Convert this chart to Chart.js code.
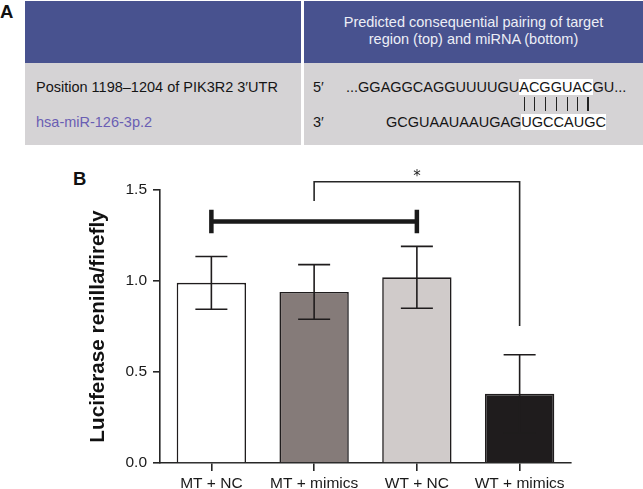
<!DOCTYPE html>
<html>
<head>
<meta charset="utf-8">
<script src="https://cdn.jsdelivr.net/npm/chart.js@4.4.1/dist/chart.umd.min.js"></script>
<style>
  body { margin: 0; width: 643px; height: 489px; background: #fff; position: relative; overflow: hidden;
         font-family: "Liberation Sans", Arial, sans-serif; }
  .abs { position: absolute; white-space: nowrap; }
  .panel { font-weight: bold; font-size: 18.5px; color: #111; }
  .head { background: #48528f; top: 1px; height: 62px; }
  .body { background: #d5d3d5; top: 63px; height: 82px; }
  .txt { font-size: 14.5px; line-height: 18px; color: #151515; }
  .seq { font-size: 14.5px; line-height: 19px; color: #151515; }
  .hl { background: #fff; }
  .pair { color: transparent; position: relative; }
  .pair::after { content: ""; position: absolute; left: 50%; top: 1px; bottom: 1px; width: 1.2px; background: #222; }
  #chart { position: absolute; left: 0; top: 150px; }
</style>
</head>
<body>
<!-- panel A: target table -->
<div class="abs panel" style="left:0px; top:0px; line-height:23px;">A</div>
<div class="abs head" style="left:25px; width:276px;"></div>
<div class="abs head" style="left:304px; width:339px;"></div>
<div class="abs body" style="left:25px; width:276px;"></div>
<div class="abs body" style="left:304px; width:339px;"></div>
<div class="abs" style="left:304px; width:339px; top:14px; text-align:center; font-size:14.5px; line-height:17px; color:#eceef6;">
  Predicted consequential pairing of target<br>region (top) and miRNA (bottom)
</div>
<div class="abs txt" style="left:36px; top:78px;">Position 1198–1204 of PIK3R2 3′UTR</div>
<div class="abs txt" style="left:36px; top:113px; color:#6a5eb3;">hsa-miR-126-3p.2</div>
<div class="abs txt" style="left:313px; top:78px;">5′</div>
<div class="abs txt" style="left:313px; top:113px;">3′</div>
<div class="abs seq" style="left:346px; top:78px;">...GGAGGCAGGUUUUGU<span class="hl">ACGGUAC</span>GU...</div>
<div class="abs seq" style="left:346px; top:96px; height:17px; line-height:17px; color:transparent;">...GGAGGCAGGUUUUGU<span class="pair">A</span><span class="pair">C</span><span class="pair">G</span><span class="pair">G</span><span class="pair">U</span><span class="pair">A</span><span class="pair">C</span></div>
<div class="abs seq" style="left:386px; top:113px;">GCGUAAUAAUGAG<span class="hl">UGCCAUGC</span></div>

<!-- panel B -->
<div class="abs panel" style="left:73px; top:167px; line-height:23px;">B</div>
<canvas id="chart" width="643" height="339"></canvas>

<script>
const categories = ["MT + NC", "MT + mimics", "WT + NC", "WT + mimics"];
const means = [0.99, 0.94, 1.02, 0.38];
const errors = [0.145, 0.15, 0.17, 0.215];
const yTicks = [0, 0.5, 1.0, 1.5];

// comparison marks, in category index / data units
const nsBar = { from: 0, to: 2, level: 1.327, cap: 0.065 };
const starBracket = { from: 1, to: 3, level: 1.545, leftEnd: 1.44, rightEnd: 0.753, label: "*" };

const ink = "#1f1c1d";

const marks = {
  id: "marks",
  afterDatasetsDraw(chart) {
    const { ctx, scales: { x, y } } = chart;
    const bars = chart.getDatasetMeta(0).data;
    ctx.save();
    ctx.strokeStyle = ink;
    ctx.lineWidth = 1.6;
    ctx.lineCap = "butt";
    // error bars
    bars.forEach((bar, i) => {
      const top = y.getPixelForValue(means[i] + errors[i]);
      const bot = y.getPixelForValue(means[i] - errors[i]);
      ctx.beginPath();
      ctx.moveTo(bar.x, top); ctx.lineTo(bar.x, bot);
      ctx.moveTo(bar.x - 16, top); ctx.lineTo(bar.x + 16, top);
      ctx.moveTo(bar.x - 16, bot); ctx.lineTo(bar.x + 16, bot);
      ctx.stroke();
    });

    // thick no-difference bar
    const x0 = x.getPixelForValue(nsBar.from), x2 = x.getPixelForValue(nsBar.to);
    const yl = y.getPixelForValue(nsBar.level);
    ctx.strokeStyle = "#1a1a1a";
    ctx.lineWidth = 4.5;
    ctx.beginPath();
    ctx.moveTo(x0, yl); ctx.lineTo(x2, yl);
    ctx.moveTo(x0, y.getPixelForValue(nsBar.level + nsBar.cap));
    ctx.lineTo(x0, y.getPixelForValue(nsBar.level - nsBar.cap));
    ctx.moveTo(x2, y.getPixelForValue(nsBar.level + nsBar.cap));
    ctx.lineTo(x2, y.getPixelForValue(nsBar.level - nsBar.cap));
    ctx.stroke();

    // significance bracket
    const xa = x.getPixelForValue(starBracket.from), xb = x.getPixelForValue(starBracket.to);
    const yt = y.getPixelForValue(starBracket.level);
    ctx.strokeStyle = "#262626";
    ctx.lineWidth = 1.6;
    ctx.beginPath();
    ctx.moveTo(xa, y.getPixelForValue(starBracket.leftEnd));
    ctx.lineTo(xa, yt);
    ctx.lineTo(xb, yt);
    ctx.lineTo(xb, y.getPixelForValue(starBracket.rightEnd));
    ctx.stroke();

    ctx.fillStyle = "#222";
    ctx.font = "15px 'DejaVu Sans', sans-serif";
    ctx.textAlign = "center";
    ctx.textBaseline = "alphabetic";
    ctx.fillText(starBracket.label, (xa + xb) / 2, yt - 1);
    ctx.restore();
  }
};

Chart.defaults.font.family = "'Liberation Sans', Arial, sans-serif";

new Chart(document.getElementById("chart").getContext("2d"), {
  type: "bar",
  data: {
    labels: categories,
    datasets: [{
      data: means,
      backgroundColor: ["#ffffff", "#857b79", "#d0cbca", ink],
      borderColor: ink,
      borderWidth: 1.6,
      barPercentage: 0.675,
      categoryPercentage: 1.0
    }]
  },
  options: {
    responsive: false,
    animation: false,
    layout: { padding: { top: 40, right: 72, left: 0, bottom: 0 } },
    plugins: { legend: { display: false }, tooltip: { enabled: false } },
    scales: {
      x: {
        afterFit(scale) { scale.height = 26; },
        grid: { drawOnChartArea: false, offset: false, tickLength: 8, color: "#262626", lineWidth: 1.6 },
        border: { color: "#262626", width: 1.6 },
        ticks: { color: "#1a1a1a", font: { size: 15.5 }, padding: 3 }
      },
      y: {
        min: 0,
        max: 1.5,
        afterFit(scale) { scale.width = 160; },
        afterBuildTicks(scale) { scale.ticks = yTicks.map(v => ({ value: v })); },
        grid: { drawOnChartArea: false, tickLength: 7, color: "#262626", lineWidth: 1.6 },
        border: { color: "#262626", width: 1.6 },
        ticks: { color: "#1a1a1a", font: { size: 15.5 }, padding: 6, callback: v => v.toFixed(1) },
        title: {
          display: true,
          text: "Luciferase renilla/firefly",
          color: "#111",
          font: { size: 20.7, weight: "bold" },
          padding: { top: 85.5, bottom: 0 }
        }
      }
    }
  },
  plugins: [marks]
});
</script>
</body>
</html>
